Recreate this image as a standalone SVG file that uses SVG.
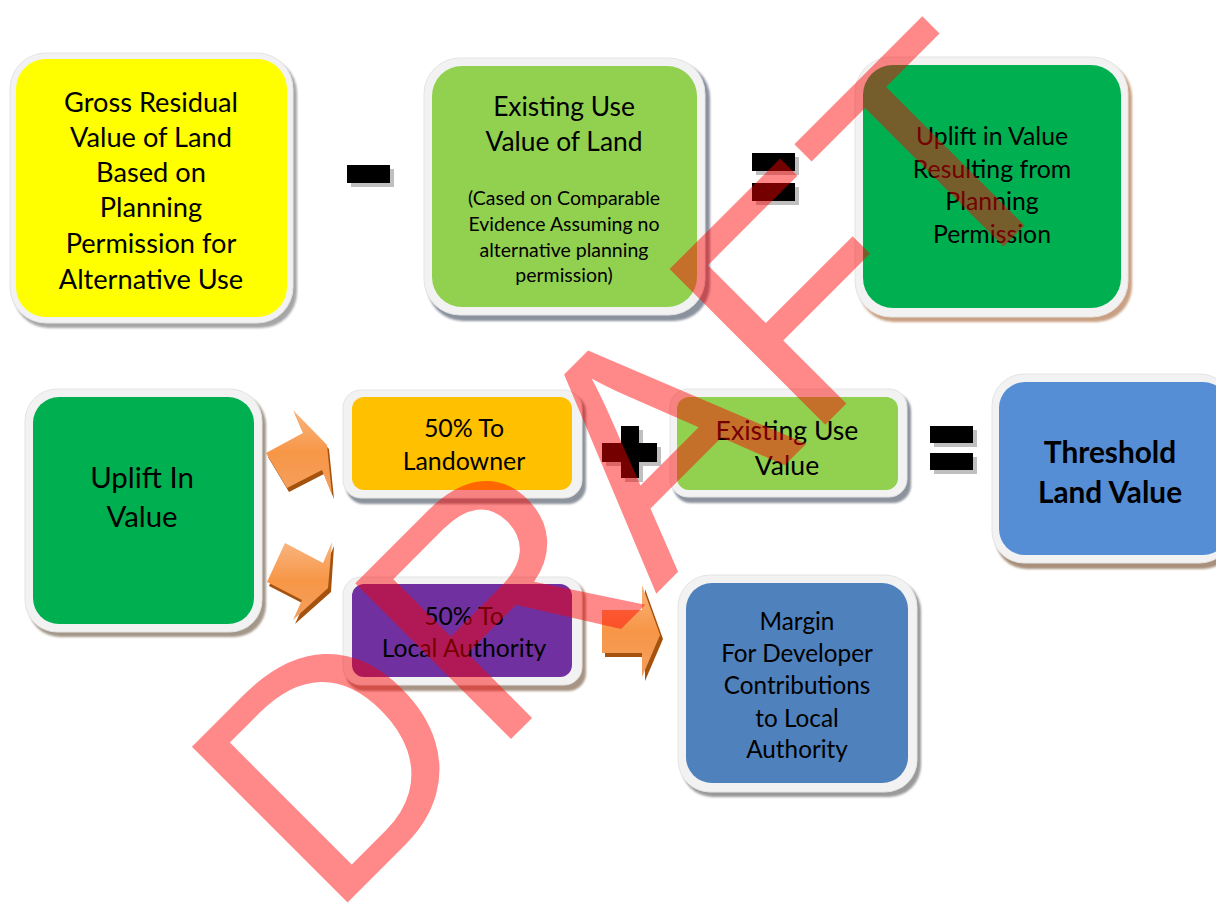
<svg xmlns="http://www.w3.org/2000/svg" width="1216" height="903" viewBox="0 0 1216 903">
  <defs>
    <linearGradient id="arrowFill" x1="0" y1="0" x2="0" y2="1">
      <stop offset="0" stop-color="#F9B580"/>
      <stop offset="0.5" stop-color="#F79646"/>
      <stop offset="1" stop-color="#F4A060"/>
    </linearGradient>
    <filter id="soft" x="-10%" y="-10%" width="120%" height="120%">
      <feGaussianBlur stdDeviation="1.2"/>
    </filter>
  </defs>
  <style>
    .frame { fill: #F2F2F2; stroke: #E4E4E4; stroke-width: 1; }
    .label { font-family: Lato, "Liberation Sans", sans-serif; fill: #000; text-anchor: middle; }
    .sign { fill: #000; }
    .signShadow { fill: #BFBFBF; }
    .arrowSide { fill: #A5520F; }
    .arrow { fill: url(#arrowFill); }
    .watermark { font-family: "Liberation Sans", Arial, sans-serif; font-size: 320px; fill: #FF0000; opacity: 0.46; }
  </style>

  <rect width="1216" height="903" fill="#FFFFFF"/>

  <!-- Gross residual value -->
  <g id="gross-residual">
    <rect x="13" y="57" width="284" height="271" rx="36" fill="#A6A6A6" filter="url(#soft)"/>
    <rect class="frame" x="10" y="53" width="283" height="270" rx="36"/>
    <rect x="16" y="59" width="271" height="258" rx="30" fill="#FFFF00"/>
    <g class="label" font-size="27.2">
      <text x="151" y="112">Gross Residual</text>
      <text x="151" y="147">Value of Land</text>
      <text x="151" y="182">Based on</text>
      <text x="151" y="217">Planning</text>
      <text x="151" y="253">Permission for</text>
      <text x="151" y="289">Alternative Use</text>
    </g>
  </g>

  <!-- Existing use value of land -->
  <g id="existing-use-value-of-land">
    <rect x="427" y="62" width="283" height="259" rx="36" fill="#8A929E" filter="url(#soft)"/>
    <rect class="frame" x="424" y="58" width="281" height="257" rx="36"/>
    <rect x="432" y="66" width="265" height="241" rx="30" fill="#92D050"/>
    <g class="label" font-size="26.4">
      <text x="564" y="116">Existing Use</text>
      <text x="564" y="151">Value of Land</text>
    </g>
    <g class="label" font-size="19.5">
      <text x="564" y="205">(Cased on Comparable</text>
      <text x="564" y="231">Evidence Assuming no</text>
      <text x="564" y="257">alternative planning</text>
      <text x="564" y="282">permission)</text>
    </g>
  </g>

  <!-- Uplift resulting from permission -->
  <g id="uplift-from-permission">
    <rect x="858" y="61" width="274" height="261" rx="36" fill="#C9A082" filter="url(#soft)"/>
    <rect class="frame" x="855" y="57" width="273" height="260" rx="36"/>
    <rect x="863" y="65" width="258" height="243" rx="30" fill="#00B050"/>
    <g class="label" font-size="24.8">
      <text x="992" y="145">Uplift in Value</text>
      <text x="992" y="178">Resulting from</text>
      <text x="992" y="210">Planning</text>
      <text x="992" y="243">Permission</text>
    </g>
  </g>

  <!-- Uplift in value -->
  <g id="uplift-in-value">
    <rect x="28" y="393" width="238" height="244" rx="32" fill="#A39788" filter="url(#soft)"/>
    <rect class="frame" x="25" y="389" width="237" height="243" rx="32"/>
    <rect x="33" y="397" width="221" height="227" rx="26" fill="#00B050"/>
    <g class="label" font-size="29.4">
      <text x="142" y="488">Uplift In</text>
      <text x="142" y="527">Value</text>
    </g>
  </g>

  <!-- Landowner share -->
  <g id="landowner-share">
    <rect x="346" y="394" width="240" height="110" rx="18" fill="#8C939C" filter="url(#soft)"/>
    <rect class="frame" x="343" y="390" width="239" height="108" rx="18"/>
    <rect x="352" y="397" width="220" height="93" rx="12" fill="#FFC000"/>
    <g class="label" font-size="24.9">
      <text x="464" y="437">50% To</text>
      <text x="464" y="470">Landowner</text>
    </g>
  </g>

  <!-- Local authority share -->
  <g id="local-authority-share">
    <rect x="346" y="581" width="240" height="110" rx="18" fill="#A89484" filter="url(#soft)"/>
    <rect class="frame" x="343" y="577" width="239" height="108" rx="18"/>
    <rect x="352" y="584" width="220" height="93" rx="12" fill="#7030A0"/>
    <g class="label" font-size="24.7">
      <text x="464" y="625">50% To</text>
      <text x="464" y="657">Local Authority</text>
    </g>
  </g>

  <!-- Existing use value -->
  <g id="existing-use-value">
    <rect x="673" y="393" width="238" height="110" rx="18" fill="#8C939C" filter="url(#soft)"/>
    <rect class="frame" x="670" y="389" width="237" height="108" rx="18"/>
    <rect x="677" y="397" width="221" height="93" rx="12" fill="#92D050"/>
    <g class="label" font-size="26.6">
      <text x="787" y="440">Existing Use</text>
      <text x="787" y="475">Value</text>
    </g>
  </g>

  <!-- Threshold land value -->
  <g id="threshold-land-value">
    <rect x="995" y="378" width="240" height="191" rx="32" fill="#A8907C" filter="url(#soft)"/>
    <rect class="frame" x="992" y="374" width="240" height="189" rx="32"/>
    <rect x="999" y="382" width="230" height="173" rx="26" fill="#558ED5"/>
    <g class="label" font-size="29.8" font-weight="bold">
      <text x="1110" y="463">Threshold</text>
      <text x="1110" y="503">Land Value</text>
    </g>
  </g>

  <!-- Margin for developer contributions -->
  <g id="developer-contributions">
    <rect x="681" y="579" width="240" height="218" rx="32" fill="#9A9A9A" filter="url(#soft)"/>
    <rect class="frame" x="678" y="575" width="239" height="217" rx="32"/>
    <rect x="686" y="583" width="222" height="200" rx="26" fill="#4F81BD"/>
    <g class="label" font-size="24.3">
      <text x="797" y="630">Margin</text>
      <text x="797" y="662">For Developer</text>
      <text x="797" y="694">Contributions</text>
      <text x="797" y="727">to Local</text>
      <text x="797" y="758">Authority</text>
    </g>
  </g>

  <!-- Operators and arrows between the boxes -->
  <g id="connectors">
    <!-- minus -->
    <rect class="signShadow" x="351" y="169" width="43" height="18"/>
    <rect class="sign" x="347" y="165" width="43" height="18"/>
    <!-- equals (top row) -->
    <rect class="signShadow" x="756" y="157" width="43" height="18"/>
    <rect class="signShadow" x="756" y="187" width="43" height="18"/>
    <rect class="sign" x="752" y="153" width="43" height="18"/>
    <rect class="sign" x="752" y="183" width="43" height="18"/>
    <!-- plus -->
    <path class="signShadow" d="M625 430h18v17h18v19h-18v16h-18v-16h-19v-19h19z"/>
    <path class="sign" d="M621 426h18v17h18v19h-18v16h-18v-16h-19v-19h19z"/>
    <!-- equals (bottom row) -->
    <rect class="signShadow" x="934" y="430" width="43" height="17"/>
    <rect class="signShadow" x="934" y="457" width="43" height="17"/>
    <rect class="sign" x="930" y="426" width="43" height="17"/>
    <rect class="sign" x="930" y="453" width="43" height="17"/>

    <!-- arrow to landowner share -->
    <path class="arrowSide" d="M268 457 L305 437 L295 414 L329 449 L334 499 L324 474 L289 492 Z"/>
    <path class="arrow" d="M266 453 L303 433 L293 410 L327 445 L332 495 L322 470 L287 488 Z"/>
    <!-- arrow to local authority share -->
    <path class="arrowSide" d="M287 547 L325 567 L334 546 L331 592 L295 624 L304 604 L269 586 Z"/>
    <path class="arrow" d="M285 543 L323 563 L332 542 L328 588 L293 620 L302 600 L267 582 Z"/>
    <!-- arrow to developer contributions -->
    <path class="arrowSide" d="M605 614 H645 V589 L663 639 L645 681 V657 H605 Z"/>
    <path class="arrow" d="M602 610 H642 V585 L660 635 L642 677 V653 H602 Z"/>
  </g>

  <!-- draft stamp across the sheet -->
  <text class="watermark" transform="translate(329 921) rotate(-45)" x="0" y="0">DRAFT</text>
</svg>
